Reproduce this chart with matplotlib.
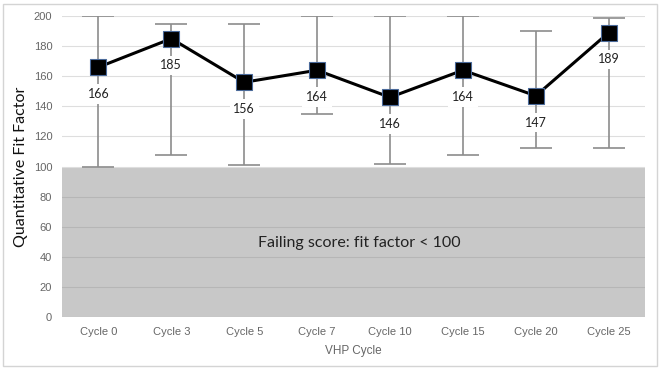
import matplotlib.pyplot as plt
from matplotlib.patches import Rectangle

# data
cycles = ['Cycle 0', 'Cycle 3', 'Cycle 5', 'Cycle 7', 'Cycle 10', 'Cycle 15', 'Cycle 20', 'Cycle 25']
fit_factor = [166, 185, 156, 164, 146, 164, 147, 189]
upper = [200, 195, 195, 200, 200, 200, 190, 199]
lower = [100, 108, 101, 135, 102, 108, 112, 112]
y_ticks = [0, 20, 40, 60, 80, 100, 120, 140, 160, 180, 200]
fail_limit = 100

fig = plt.figure(figsize=(6.59, 3.73), dpi=100)
ax = fig.add_axes([0.094, 0.150, 0.885, 0.807])

x = list(range(len(cycles)))

# failing region
ax.axhspan(0, fail_limit, color='#c8c8c8', zorder=0.5, lw=0)
for t in y_ticks:
    ax.axhline(t, color='#b6b6b6' if t < fail_limit else '#dedede', lw=0.8, zorder=0.6)

# error bars (range)
yerr = [[f - lo for f, lo in zip(fit_factor, lower)],
        [up - f for f, up in zip(fit_factor, upper)]]
ax.errorbar(x, fit_factor, yerr=yerr, fmt='none', ecolor='#8c8c8c', elinewidth=1.2,
            capsize=11.5, capthick=1.2, zorder=1)

# labels under the points
for xi, v in zip(x, fit_factor):
    ax.annotate(str(v), xy=(xi, v), xytext=(0, -15), textcoords='offset points',
                ha='center', va='top', fontsize=9, family='Lato', color='#222222',
                bbox=dict(boxstyle='square,pad=0.3', fc='white', ec='none'), zorder=2)

ax.plot(x, fit_factor, color='black', lw=2.2, marker='s', markersize=11,
        markerfacecolor='black', markeredgecolor='#4a6a9a', markeredgewidth=0.8, zorder=3)

ax.text(3.58, 49, 'Failing score: fit factor < 100', ha='center', va='center',
        fontsize=11.5, family='Lato', color='#222222')

ax.set_xlim(-0.5, len(cycles) - 0.5)
ax.set_ylim(0, 200)
ax.set_xticks(x)
ax.set_xticklabels(cycles, family='Liberation Sans', fontsize=8, color='#666666')
ax.set_yticks(y_ticks)
ax.set_yticklabels([str(t) for t in y_ticks], family='Liberation Sans', fontsize=8, color='#666666')
ax.tick_params(length=0, pad=7)
for s in ax.spines.values():
    s.set_visible(False)

ax.set_xlabel('VHP Cycle', family='Liberation Sans', fontsize=8.5, color='#666666', labelpad=6)
ax.set_ylabel('Quantitative Fit Factor', family='Lato', fontsize=11.5, color='#111111', labelpad=4)

# outer frame
fig.patches.append(Rectangle((0.005, 0.018), 0.992, 0.972, transform=fig.transFigure,
                             fill=False, ec='#d4d4d4', lw=1))

fig.savefig('out.png', dpi=100)
